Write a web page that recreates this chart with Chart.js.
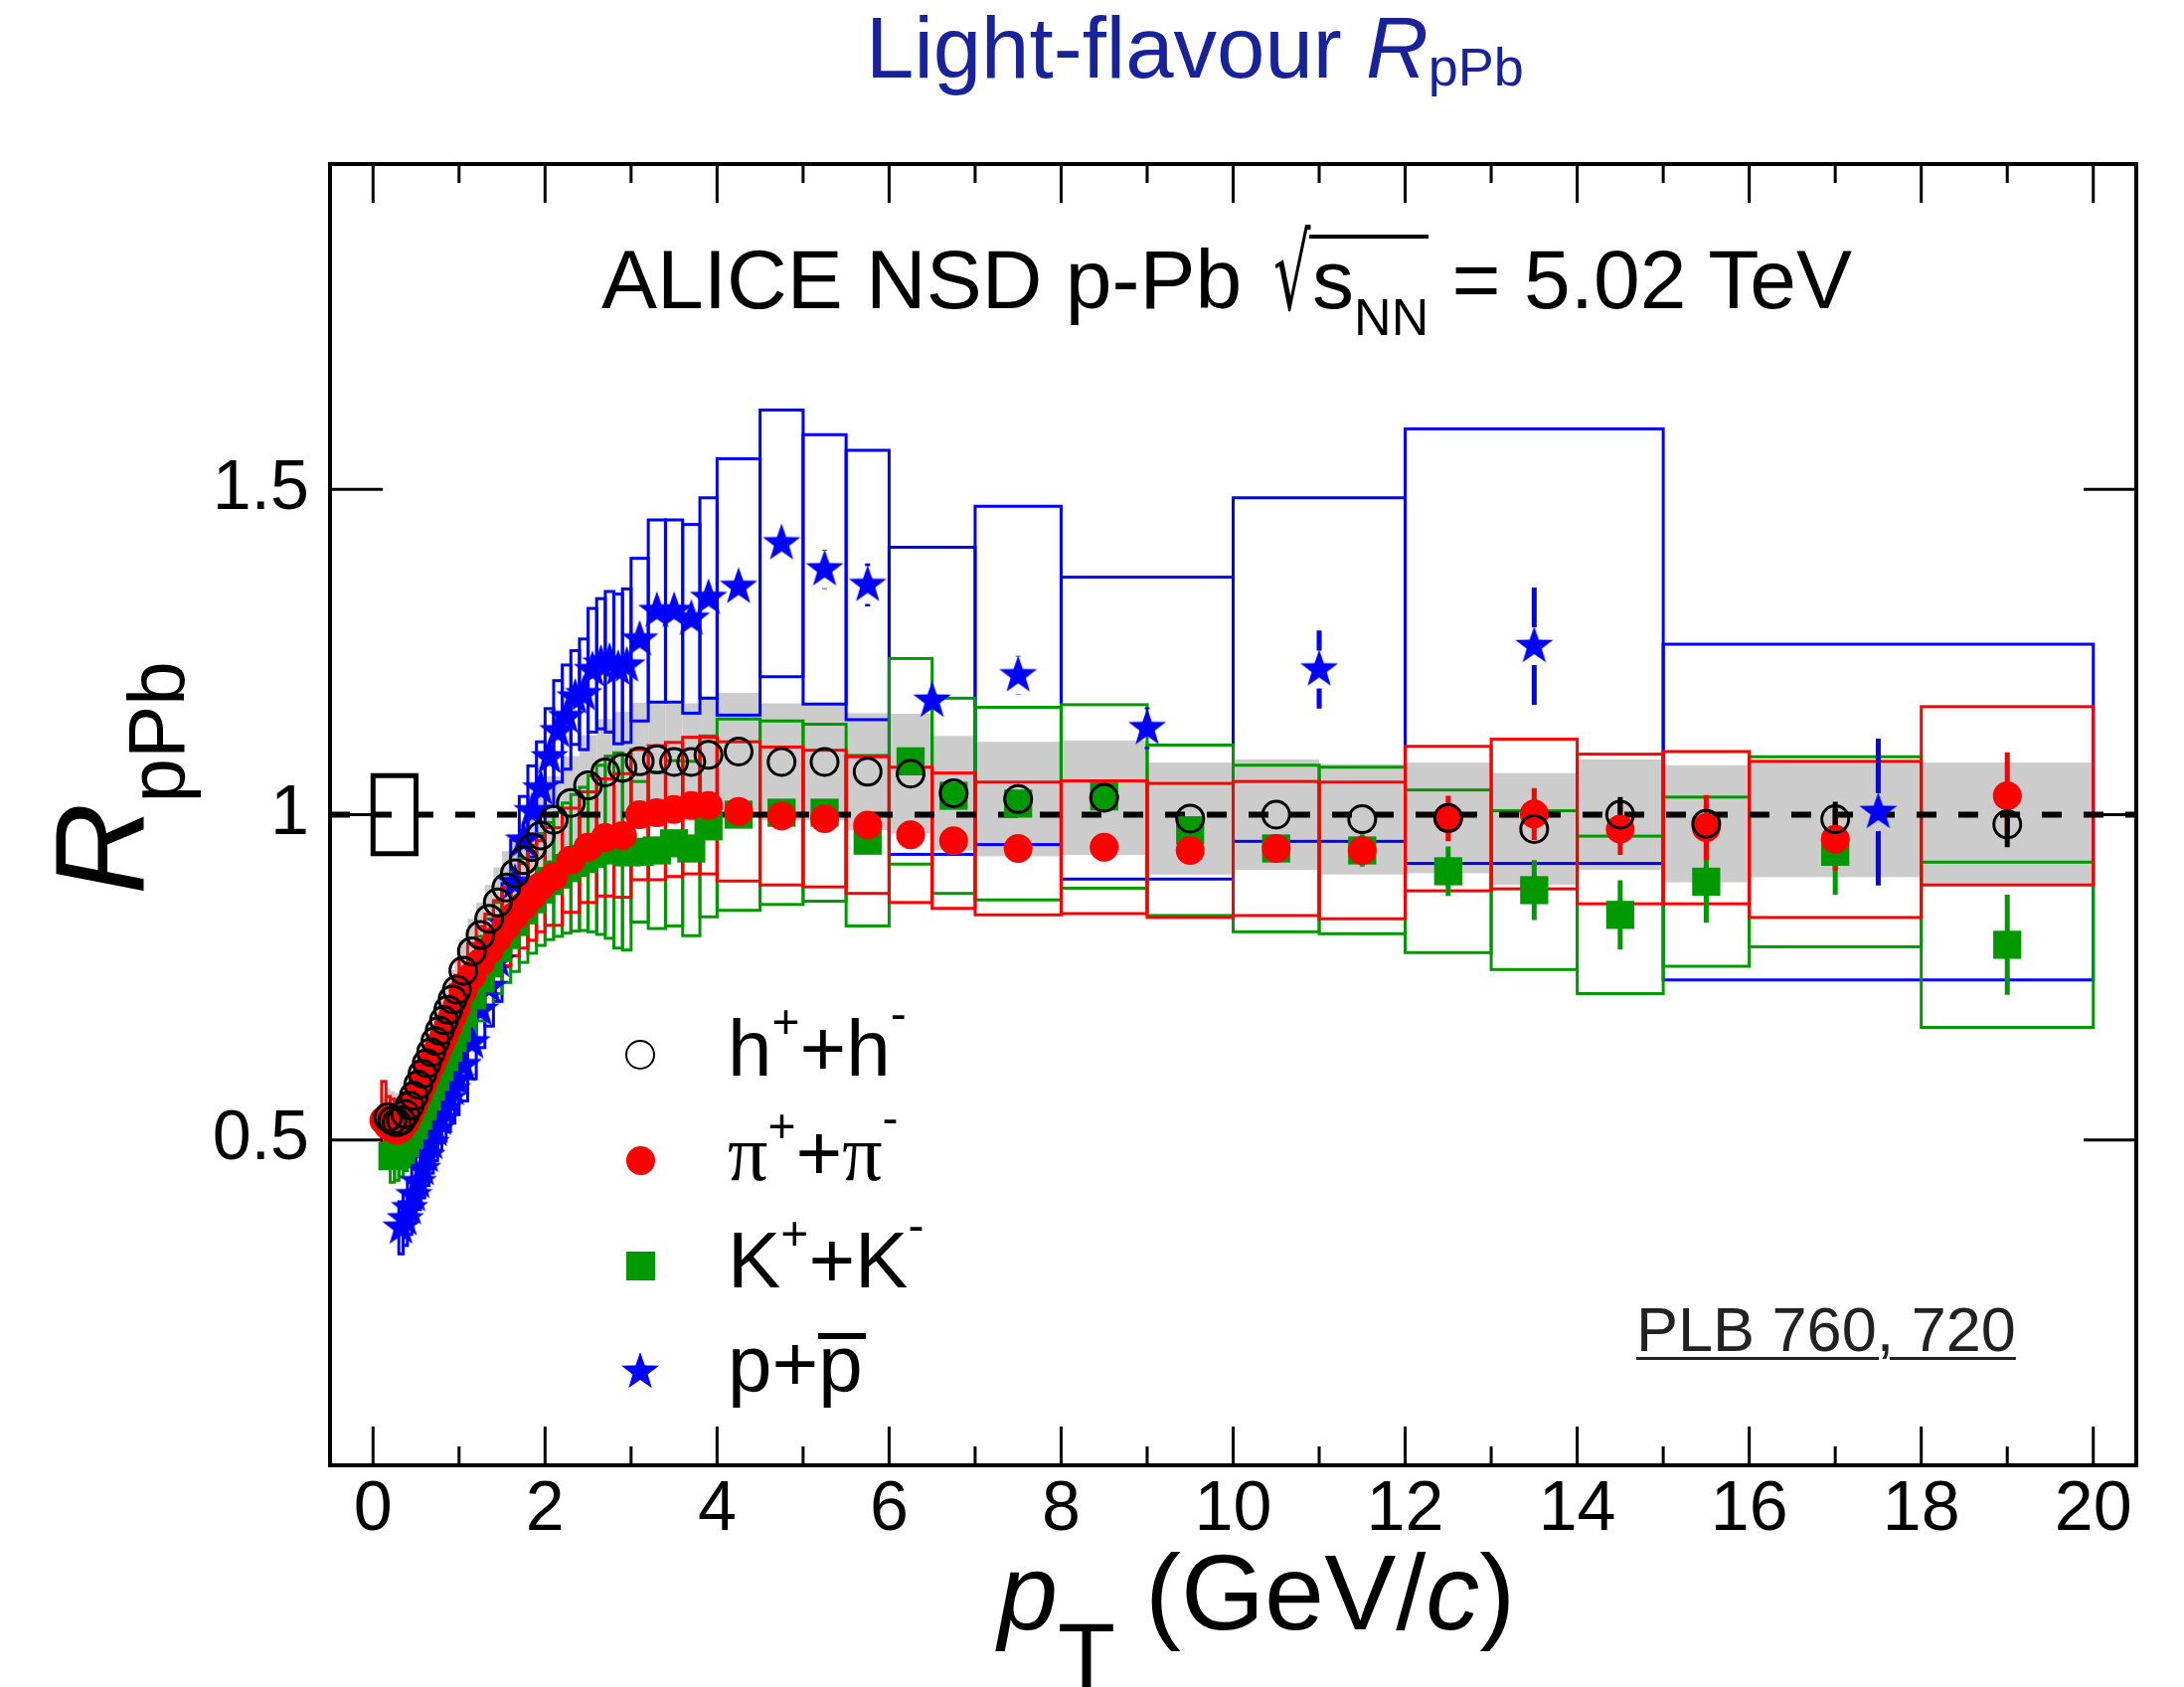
<!DOCTYPE html>
<html>
<head>
<meta charset="utf-8">
<title>Light-flavour RpPb</title>
<script src="https://cdn.jsdelivr.net/npm/chart.js@4.4.1/dist/chart.umd.min.js"></script>
<style>
  html, body { margin: 0; padding: 0; background: #fff; }
  #wrap { position: relative; width: 2197px; height: 1697px; overflow: hidden;
          font-family: "Liberation Sans", Arial, Helvetica, sans-serif; color: #000; }
  #c { position: absolute; left: 0; top: 0; }
  .lbl { position: absolute; white-space: nowrap; line-height: 1; }
  .sh { position: relative; }
  .rad { display: inline-block; font-family: "DejaVu Sans", sans-serif; transform: scale(0.7, 1.25); transform-origin: 50% 80%; margin-right: -6px; }
  .ov { position: relative; }
  .ov::before { content: ""; position: absolute; left: -3px; right: 0; top: 2px; height: 4px; background: #000; }
  .bar { position: relative; }
  .bar::before { content: ""; position: absolute; left: 0; right: -3px; top: 14px; height: 6px; background: #000; }
  .mk { position: absolute; box-sizing: border-box; }
</style>
</head>
<body>
<div id="wrap">
  <canvas id="c" width="2197" height="1697"></canvas>

  <div class="lbl" style="left:871px; top:4px; font-size:87px; color:#18229a;">Light-flavour <i>R</i><span class="sh" style="font-size:54px; top:8px;">pPb</span></div>

  <div class="lbl" style="left:605px; top:239px; font-size:84px;">ALICE NSD p-Pb <span class="rad">√</span><span class="ov">s<span class="sh" style="font-size:52px; top:27px;">NN</span></span> = 5.02 TeV</div>

  <div class="lbl" style="left:37px; top:900px; font-size:128px; transform:rotate(-90deg); transform-origin:0 0;"><i>R</i><span class="sh" style="font-size:80px; top:40px;">pPb</span></div>

  <div class="lbl" style="left:1004px; top:1548px; font-size:108px;"><i>p</i><span class="sh" style="font-size:95px; top:60px;">T</span> (GeV/<i>c</i>)</div>

  <div class="lbl" style="left:1646px; top:1306px; font-size:63px; color:#222; text-decoration:underline; text-decoration-thickness:3px; text-underline-offset:6px;">PLB 760, 720</div>

  <div class="mk" style="left:629px; top:1046px; width:30px; height:30px; border:2.8px solid #000; border-radius:50%;"></div>
  <div class="mk" style="left:629.5px; top:1152.5px; width:29px; height:29px; background:#ff0000; border-radius:50%;"></div>
  <div class="mk" style="left:629.5px; top:1258.5px; width:29px; height:29px; background:#009900;"></div>
  <canvas id="legStar" class="mk" width="44" height="44" style="left:622px; top:1358px;"></canvas>

  <div class="lbl" style="left:732px; top:1015px; font-size:80px;">h<span class="sh" style="font-size:48px; top:-38px;">+</span>+h<span class="sh" style="font-size:48px; top:-46px;">-</span></div>
  <div class="lbl" style="left:732px; top:1120px; font-size:80px;"><span style="font-family:'Liberation Serif',serif;">π</span><span class="sh" style="font-size:48px; top:-38px;">+</span>+<span style="font-family:'Liberation Serif',serif;">π</span><span class="sh" style="font-size:48px; top:-46px;">-</span></div>
  <div class="lbl" style="left:732px; top:1228px; font-size:80px;">K<span class="sh" style="font-size:48px; top:-38px;">+</span>+K<span class="sh" style="font-size:48px; top:-46px;">-</span></div>
  <div class="lbl" style="left:732px; top:1332px; font-size:80px;">p+<span class="bar">p</span></div>
</div>

<script>
// charged hadrons h+ + h-
const hPt = [0.175,0.225,0.275,0.325,0.375,0.425,0.475,0.525,0.575,0.625,0.675,0.725,0.775,0.825,0.875,0.925,0.975,
  1.05,1.15,1.25,1.35,1.45,1.55,1.65,1.75,1.85,1.95,
  2.1,2.3,2.5,2.7,2.9,3.1,3.3,3.5,3.7,3.9,
  4.25,4.75,5.25,5.75,
  6.25,6.75,7.5,8.5,9.5,10.5,11.5,12.5,13.5,14.5,15.5,17,19];
const hBw = [0.025,0.025,0.025,0.025,0.025,0.025,0.025,0.025,0.025,0.025,0.025,0.025,0.025,0.025,0.025,0.025,0.025,
  0.05,0.05,0.05,0.05,0.05,0.05,0.05,0.05,0.05,0.05,
  0.1,0.1,0.1,0.1,0.1,0.1,0.1,0.1,0.1,0.1,
  0.25,0.25,0.25,0.25,
  0.25,0.25,0.5,0.5,0.5,0.5,0.5,0.5,0.5,0.5,0.5,1,1];
const hVal = [0.535,0.530,0.527,0.530,0.540,0.553,0.568,0.585,0.602,0.618,0.635,0.652,0.668,0.684,0.700,0.716,0.731,
  0.760,0.790,0.815,0.840,0.865,0.888,0.910,0.930,0.950,0.968,
  0.992,1.018,1.045,1.065,1.072,1.082,1.085,1.081,1.081,1.092,
  1.097,1.081,1.081,1.066,
  1.063,1.033,1.024,1.026,0.994,1.000,0.993,0.995,0.978,1.000,0.986,0.993,0.985];
const hStat = [0.003,0.003,0.003,0.003,0.003,0.003,0.003,0.003,0.003,0.003,0.003,0.003,0.003,0.003,0.003,0.003,0.003,
  0.003,0.003,0.003,0.003,0.003,0.003,0.003,0.003,0.003,0.003,
  0.004,0.004,0.004,0.004,0.004,0.004,0.004,0.004,0.004,0.004,
  0.004,0.005,0.005,0.006,
  0.006,0.007,0.007,0.008,0.009,0.010,0.011,0.015,0.020,0.027,0.020,0.027,0.035];
const hSys = [0.045,0.045,0.045,0.045,0.045,0.045,0.045,0.045,0.045,0.045,0.045,0.045,0.045,0.045,0.045,0.045,0.045,
  0.048,0.050,0.050,0.052,0.054,0.056,0.058,0.060,0.062,0.064,
  0.067,0.072,0.077,0.082,0.086,0.090,0.090,0.090,0.090,0.090,
  0.090,0.090,0.090,0.090,
  0.092,0.088,0.088,0.088,0.086,0.085,0.085,0.085,0.086,0.085,0.090,0.089,0.095];

// pions
const piPt = [0.125,0.175,0.225,0.275,0.325,0.375,0.425,0.475,0.525,0.575,0.625,0.675,0.725,0.775,0.825,0.875,0.925,0.975,
  1.05,1.15,1.25,1.35,1.45,1.55,1.65,1.75,1.85,1.95,
  2.1,2.3,2.5,2.7,2.9,3.1,3.3,3.5,3.7,3.9,
  4.25,4.75,5.25,5.75,
  6.25,6.75,7.5,8.5,9.5,10.5,11.5,12.5,13.5,14.5,15.5,17,19];
const piBw = [0.025,0.025,0.025,0.025,0.025,0.025,0.025,0.025,0.025,0.025,0.025,0.025,0.025,0.025,0.025,0.025,0.025,0.025,
  0.05,0.05,0.05,0.05,0.05,0.05,0.05,0.05,0.05,0.05,
  0.1,0.1,0.1,0.1,0.1,0.1,0.1,0.1,0.1,0.1,
  0.25,0.25,0.25,0.25,
  0.25,0.25,0.5,0.5,0.5,0.5,0.5,0.5,0.5,0.5,0.5,1,1];
const piVal = [0.530,0.522,0.518,0.515,0.518,0.527,0.540,0.555,0.570,0.585,0.600,0.615,0.630,0.645,0.660,0.675,0.690,0.705,
  0.730,0.752,0.773,0.792,0.810,0.828,0.845,0.860,0.875,0.890,
  0.905,0.930,0.950,0.965,0.968,1.000,1.003,1.008,1.014,1.014,
  1.005,0.998,0.994,0.984,
  0.969,0.960,0.948,0.950,0.945,0.948,0.945,0.994,1.001,0.978,0.980,0.962,1.029];
const piStat = [0.010,0.004,0.004,0.004,0.004,0.004,0.004,0.004,0.004,0.004,0.004,0.004,0.004,0.004,0.004,0.004,0.004,0.004,
  0.004,0.004,0.004,0.004,0.004,0.004,0.004,0.004,0.004,0.004,
  0.004,0.004,0.004,0.004,0.004,0.005,0.005,0.005,0.005,0.005,
  0.005,0.006,0.006,0.007,
  0.008,0.008,0.009,0.010,0.012,0.015,0.020,0.035,0.040,0.040,0.050,0.047,0.067];
const piSys = [0.060,0.045,0.045,0.045,0.045,0.045,0.045,0.045,0.045,0.045,0.045,0.045,0.045,0.045,0.045,0.045,0.048,0.048,
  0.050,0.050,0.055,0.055,0.058,0.060,0.062,0.065,0.068,0.070,
  0.075,0.080,0.085,0.090,0.095,0.100,0.103,0.103,0.105,0.105,
  0.107,0.106,0.105,0.105,
  0.104,0.104,0.102,0.102,0.103,0.103,0.105,0.111,0.115,0.115,0.117,0.120,0.137];

// kaons
const kPt = [0.225,0.275,0.325,0.375,0.425,0.475,0.525,0.575,0.625,0.675,0.725,0.775,0.825,0.875,0.925,0.975,
  1.05,1.15,1.25,1.35,1.45,1.55,1.65,1.75,1.85,1.95,
  2.05,2.15,2.25,2.35,2.45,2.55,2.65,2.75,2.85,2.95,
  3.1,3.3,3.5,3.7,3.9,
  4.25,4.75,5.25,5.75,
  6.25,6.75,7.5,8.5,9.5,10.5,11.5,12.5,13.5,14.5,15.5,17,19];
const kBw = [0.025,0.025,0.025,0.025,0.025,0.025,0.025,0.025,0.025,0.025,0.025,0.025,0.025,0.025,0.025,0.025,
  0.05,0.05,0.05,0.05,0.05,0.05,0.05,0.05,0.05,0.05,
  0.05,0.05,0.05,0.05,0.05,0.05,0.05,0.05,0.05,0.05,
  0.1,0.1,0.1,0.1,0.1,
  0.25,0.25,0.25,0.25,
  0.25,0.25,0.5,0.5,0.5,0.5,0.5,0.5,0.5,0.5,0.5,1,1];
const kVal = [0.475,0.478,0.485,0.495,0.508,0.522,0.537,0.552,0.567,0.582,0.597,0.612,0.627,0.642,0.657,0.672,
  0.695,0.722,0.748,0.772,0.795,0.815,0.835,0.853,0.870,0.885,
  0.898,0.908,0.918,0.926,0.932,0.940,0.946,0.950,0.945,0.942,
  0.943,0.945,0.956,0.948,0.982,
  1.000,1.003,1.003,0.960,
  1.082,1.029,1.017,1.028,0.976,0.948,0.945,0.913,0.884,0.846,0.897,0.943,0.800];
const kStat = [0.004,0.004,0.004,0.004,0.004,0.004,0.004,0.004,0.004,0.004,0.004,0.004,0.004,0.004,0.004,0.004,
  0.004,0.004,0.004,0.004,0.004,0.004,0.004,0.004,0.004,0.004,
  0.005,0.005,0.005,0.005,0.005,0.005,0.005,0.005,0.005,0.005,
  0.006,0.006,0.006,0.006,0.006,
  0.007,0.008,0.009,0.010,
  0.011,0.012,0.012,0.014,0.020,0.022,0.025,0.038,0.046,0.053,0.063,0.066,0.077];
const kSys = [0.040,0.040,0.042,0.042,0.044,0.045,0.046,0.047,0.048,0.050,0.051,0.052,0.053,0.055,0.056,0.058,
  0.060,0.062,0.065,0.068,0.070,0.073,0.076,0.080,0.083,0.086,
  0.090,0.095,0.100,0.105,0.110,0.120,0.130,0.140,0.150,0.150,
  0.108,0.120,0.127,0.134,0.139,
  0.147,0.141,0.136,0.131,
  0.158,0.150,0.148,0.141,0.131,0.128,0.128,0.125,0.122,0.121,0.130,0.146,0.127];

// protons
const pPt = [0.325,0.375,0.425,0.475,0.525,0.575,0.625,0.675,0.725,0.775,0.825,0.875,0.925,0.975,
  1.05,1.15,1.25,1.35,1.45,1.55,1.65,1.75,1.85,1.95,
  2.05,2.15,2.25,2.35,2.45,2.55,2.65,2.75,2.85,2.95,
  3.1,3.3,3.5,3.7,3.9,
  4.25,4.75,5.25,5.75,
  6.5,7.5,9,11,13.5,17.5];
const pBw = [0.025,0.025,0.025,0.025,0.025,0.025,0.025,0.025,0.025,0.025,0.025,0.025,0.025,0.025,
  0.05,0.05,0.05,0.05,0.05,0.05,0.05,0.05,0.05,0.05,
  0.05,0.05,0.05,0.05,0.05,0.05,0.05,0.05,0.05,0.05,
  0.1,0.1,0.1,0.1,0.1,
  0.25,0.25,0.25,0.25,
  0.5,0.5,1,1,1.5,2.5];
const pVal = [0.365,0.378,0.395,0.415,0.435,0.455,0.475,0.495,0.515,0.532,0.548,0.563,0.578,0.592,
  0.615,0.650,0.700,0.735,0.775,0.830,0.895,0.960,1.005,1.040,
  1.088,1.128,1.150,1.180,1.185,1.222,1.232,1.235,1.224,1.229,
  1.269,1.313,1.313,1.301,1.333,
  1.350,1.417,1.377,1.353,
  1.175,1.214,1.133,1.223,1.259,1.004];
const pStat = [0.005,0.005,0.005,0.005,0.005,0.005,0.005,0.005,0.005,0.005,0.005,0.005,0.005,0.005,
  0.005,0.005,0.005,0.005,0.005,0.005,0.005,0.005,0.005,0.005,
  0.006,0.006,0.006,0.006,0.006,0.006,0.006,0.006,0.006,0.006,
  0.007,0.007,0.007,0.007,0.007,
  0.008,0.020,0.030,0.033,
  0.020,0.030,0.032,0.060,0.090,0.113];
const pSys = [0.040,0.040,0.040,0.042,0.042,0.044,0.045,0.046,0.047,0.048,0.050,0.050,0.052,0.053,
  0.055,0.056,0.058,0.060,0.062,0.064,0.066,0.068,0.070,0.072,
  0.075,0.078,0.080,0.072,0.085,0.095,0.100,0.108,0.115,0.118,
  0.125,0.140,0.140,0.145,0.154,
  0.197,0.205,0.207,0.207,
  0.236,0.260,0.232,0.264,0.334,0.258];

// global normalisation uncertainty
const normErr = 0.06;

// axis ticks
const xTicks = [0,2,4,6,8,10,12,14,16,18,20];
const xTickLabels = ['0','2','4','6','8','10','12','14','16','18','20'];
const xMinor = [1,3,5,7,9,11,13,15,17,19];
const yTicks = [0.5, 1, 1.5];
const yTickLabels = ['0.5','1','1.5'];

const RED = '#ff0000', GREEN = '#009900', BLUE = '#0000ff', GREY = '#cccccc';
const FONT = '"Liberation Sans", Arial, Helvetica, sans-serif';

function makeStar(R, r, color) {
  const c = document.createElement('canvas');
  const s = Math.ceil(2 * R + 4);
  c.width = s; c.height = s;
  drawStar(c.getContext('2d'), s / 2, s / 2, R, r, color);
  return c;
}
function drawStar(g, cx, cy, R, r, color) {
  g.fillStyle = color;
  g.beginPath();
  for (let i = 0; i < 10; i++) {
    const rad = i % 2 === 0 ? R : r;
    const a = -Math.PI / 2 + i * Math.PI / 5;
    const px = cx + rad * Math.cos(a), py = cy + rad * Math.sin(a);
    if (i === 0) g.moveTo(px, py); else g.lineTo(px, py);
  }
  g.closePath();
  g.fill();
}
drawStar(document.getElementById('legStar').getContext('2d'), 22, 22, 20, 8, BLUE);

const toXY = (xs, ys) => xs.map((v, i) => ({ x: v, y: ys[i] }));

function sysBoxes(ctx, x, y, pts, vals, sys, bw, fill, stroke) {
  pts.forEach((pt, i) => {
    const x0 = x.getPixelForValue(pt - bw[i]), x1 = x.getPixelForValue(pt + bw[i]);
    const y0 = y.getPixelForValue(vals[i] + sys[i]), y1 = y.getPixelForValue(vals[i] - sys[i]);
    if (fill) { ctx.fillStyle = fill; ctx.fillRect(x0, y0, x1 - x0, y1 - y0); }
    if (stroke) { ctx.strokeStyle = stroke; ctx.strokeRect(x0, y0, x1 - x0, y1 - y0); }
  });
}

// gap: part hidden around the marker; minLen: bars shorter than this are not drawn
function statBars(ctx, x, y, pts, vals, errs, color, gap, minLen) {
  ctx.strokeStyle = color;
  ctx.beginPath();
  pts.forEach((pt, i) => {
    const px = x.getPixelForValue(pt);
    const yc = y.getPixelForValue(vals[i]);
    const yt = y.getPixelForValue(vals[i] + errs[i]);
    const yb = y.getPixelForValue(vals[i] - errs[i]);
    if (yc - yt <= minLen) return;
    if (yc - yt > gap) { ctx.moveTo(px, yt); ctx.lineTo(px, yc - gap); }
    if (yb - yc > gap) { ctx.moveTo(px, yc + gap); ctx.lineTo(px, yb); }
  });
  ctx.stroke();
}

const rootStyle = {
  id: 'rootStyle',
  beforeDatasetsDraw(chart) {
    const { ctx, chartArea: a, scales: { x, y } } = chart;
    ctx.save();
    ctx.beginPath();
    ctx.rect(a.left, a.top, a.right - a.left, a.bottom - a.top);
    ctx.clip();

    // h systematics: grey band
    sysBoxes(ctx, x, y, hPt, hVal, hSys, hBw, GREY, null);

    // identified particle systematics: open boxes
    ctx.lineWidth = 3;
    sysBoxes(ctx, x, y, pPt, pVal, pSys, pBw, null, BLUE);
    sysBoxes(ctx, x, y, kPt, kVal, kSys, kBw, null, GREEN);
    sysBoxes(ctx, x, y, piPt, piVal, piSys, piBw, null, RED);

    // unity line
    ctx.strokeStyle = '#000';
    ctx.lineWidth = 6;
    ctx.setLineDash([20, 22]);
    ctx.beginPath();
    ctx.moveTo(a.left, y.getPixelForValue(1));
    ctx.lineTo(a.right, y.getPixelForValue(1));
    ctx.stroke();
    ctx.setLineDash([]);

    // normalisation box
    ctx.lineWidth = 5;
    const nx0 = x.getPixelForValue(0), nx1 = x.getPixelForValue(0.5);
    const ny0 = y.getPixelForValue(1 + normErr), ny1 = y.getPixelForValue(1 - normErr);
    ctx.strokeRect(nx0, ny0, nx1 - nx0, ny1 - ny0);

    // statistical errors
    ctx.lineWidth = 5;
    statBars(ctx, x, y, pPt, pVal, pStat, BLUE, 19, 0);
    statBars(ctx, x, y, kPt, kVal, kStat, GREEN, 0, 14);
    statBars(ctx, x, y, piPt, piVal, piStat, RED, 0, 14);
    statBars(ctx, x, y, hPt, hVal, hStat, '#000', 0, 15);
    ctx.restore();
  },
  afterDraw(chart) {
    const { ctx, chartArea: a, scales: { x, y } } = chart;
    ctx.save();
    ctx.strokeStyle = '#000';
    ctx.lineWidth = 3;
    ctx.beginPath();
    xTicks.forEach(v => {
      const px = x.getPixelForValue(v);
      ctx.moveTo(px, a.bottom); ctx.lineTo(px, a.bottom - 39);
      ctx.moveTo(px, a.top); ctx.lineTo(px, a.top + 39);
    });
    xMinor.forEach(v => {
      const px = x.getPixelForValue(v);
      ctx.moveTo(px, a.bottom); ctx.lineTo(px, a.bottom - 19);
      ctx.moveTo(px, a.top); ctx.lineTo(px, a.top + 19);
    });
    yTicks.forEach(v => {
      const py = y.getPixelForValue(v);
      ctx.moveTo(a.left, py); ctx.lineTo(a.left + 53, py);
      ctx.moveTo(a.right, py); ctx.lineTo(a.right - 53, py);
    });
    ctx.stroke();
    ctx.lineWidth = 4;
    ctx.strokeRect(a.left, a.top, a.right - a.left, a.bottom - a.top);
    ctx.restore();
  }
};

new Chart(document.getElementById('c'), {
  type: 'scatter',
  data: {
    datasets: [
      { label: 'h+ + h-', data: toXY(hPt, hVal), pointStyle: 'circle', pointRadius: 13.5,
        borderWidth: 3, borderColor: '#000', backgroundColor: 'rgba(0,0,0,0)' },
      { label: 'pi+ + pi-', data: toXY(piPt, piVal), pointStyle: 'circle', pointRadius: 14.5,
        borderWidth: 0, backgroundColor: RED },
      { label: 'K+ + K-', data: toXY(kPt, kVal), pointStyle: 'rect', pointRadius: 20,
        borderWidth: 0, backgroundColor: GREEN },
      { label: 'p + pbar', data: toXY(pPt, pVal), pointStyle: makeStar(20, 8, BLUE), pointRadius: 18 }
    ]
  },
  options: {
    responsive: false,
    animation: false,
    events: [],
    layout: { padding: { left: 0, right: 48, top: 165, bottom: 0 }, autoPadding: false },
    scales: {
      x: {
        type: 'linear', min: -0.5, max: 20.5,
        grid: { display: false, drawTicks: false },
        border: { display: false },
        afterFit: s => { s.height = 223; },
        afterBuildTicks: s => { s.ticks = xTicks.map(v => ({ value: v })); },
        ticks: { font: { family: FONT, size: 70 }, color: '#000', padding: 4,
                 maxRotation: 0, autoSkip: false, callback: (v, i) => xTickLabels[i] }
      },
      y: {
        type: 'linear', min: 0, max: 2,
        grid: { display: false, drawTicks: false },
        border: { display: false },
        afterFit: s => { s.width = 332; },
        afterBuildTicks: s => { s.ticks = yTicks.map(v => ({ value: v })); },
        ticks: { font: { family: FONT, size: 70 }, color: '#000', padding: 21,
                 autoSkip: false, callback: (v, i) => yTickLabels[i] }
      }
    },
    plugins: { legend: { display: false }, tooltip: { enabled: false } }
  },
  plugins: [rootStyle]
});
</script>
</body>
</html>
